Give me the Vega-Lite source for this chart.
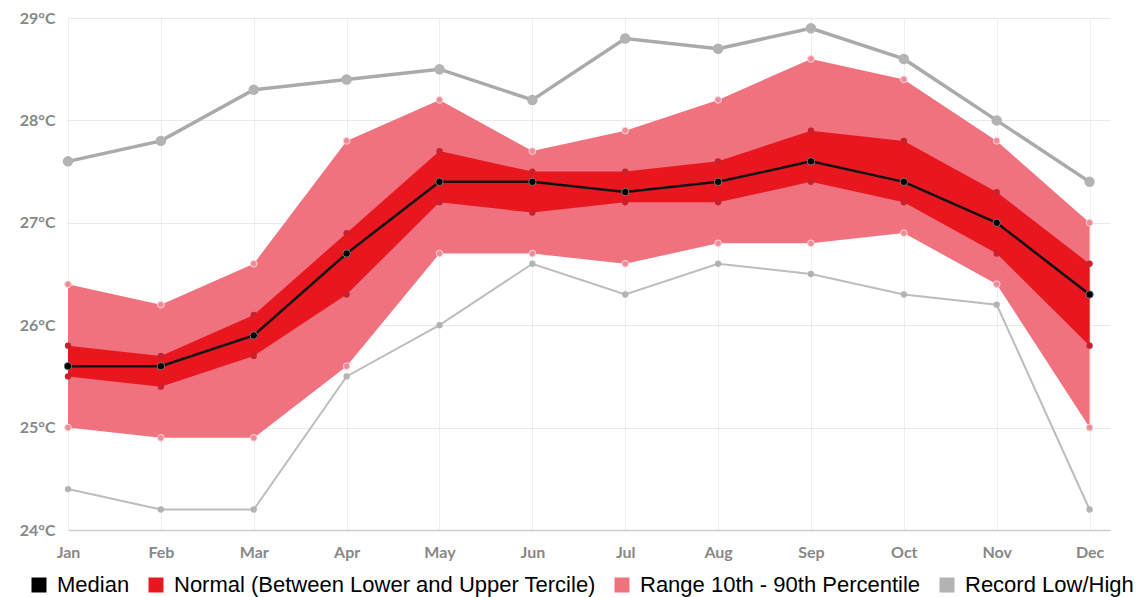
{
  "$schema": "https://vega.github.io/schema/vega-lite/v6.json",
  "width": 1042,
  "height": 512,
  "autosize": "none",
  "padding": {"left": 68, "top": 18, "right": 32, "bottom": 67},
  "background": "white",
  "config": {
    "view": {"stroke": null},
    "axis": {"labelFont": "Lato", "labelFontWeight": "bold", "labelColor": "#888888", "labelFontSize": 16, "ticks": false, "gridColor": "#e9e9e9", "gridWidth": 1, "title": null}
  },
  "data": {
    "values": [
      {"month": "Jan", "m": 1, "rec_lo": 24.4, "p10": 25.0, "lo_t": 25.5, "med": 25.6, "hi_t": 25.8, "p90": 26.4, "rec_hi": 27.6},
      {"month": "Feb", "m": 2, "rec_lo": 24.2, "p10": 24.9, "lo_t": 25.4, "med": 25.6, "hi_t": 25.7, "p90": 26.2, "rec_hi": 27.8},
      {"month": "Mar", "m": 3, "rec_lo": 24.2, "p10": 24.9, "lo_t": 25.7, "med": 25.9, "hi_t": 26.1, "p90": 26.6, "rec_hi": 28.3},
      {"month": "Apr", "m": 4, "rec_lo": 25.5, "p10": 25.6, "lo_t": 26.3, "med": 26.7, "hi_t": 26.9, "p90": 27.8, "rec_hi": 28.4},
      {"month": "May", "m": 5, "rec_lo": 26.0, "p10": 26.7, "lo_t": 27.2, "med": 27.4, "hi_t": 27.7, "p90": 28.2, "rec_hi": 28.5},
      {"month": "Jun", "m": 6, "rec_lo": 26.6, "p10": 26.7, "lo_t": 27.1, "med": 27.4, "hi_t": 27.5, "p90": 27.7, "rec_hi": 28.2},
      {"month": "Jul", "m": 7, "rec_lo": 26.3, "p10": 26.6, "lo_t": 27.2, "med": 27.3, "hi_t": 27.5, "p90": 27.9, "rec_hi": 28.8},
      {"month": "Aug", "m": 8, "rec_lo": 26.6, "p10": 26.8, "lo_t": 27.2, "med": 27.4, "hi_t": 27.6, "p90": 28.2, "rec_hi": 28.7},
      {"month": "Sep", "m": 9, "rec_lo": 26.5, "p10": 26.8, "lo_t": 27.4, "med": 27.6, "hi_t": 27.9, "p90": 28.6, "rec_hi": 28.9},
      {"month": "Oct", "m": 10, "rec_lo": 26.3, "p10": 26.9, "lo_t": 27.2, "med": 27.4, "hi_t": 27.8, "p90": 28.4, "rec_hi": 28.6},
      {"month": "Nov", "m": 11, "rec_lo": 26.2, "p10": 26.4, "lo_t": 26.7, "med": 27.0, "hi_t": 27.3, "p90": 27.8, "rec_hi": 28.0},
      {"month": "Dec", "m": 12, "rec_lo": 24.2, "p10": 25.0, "lo_t": 25.8, "med": 26.3, "hi_t": 26.6, "p90": 27.0, "rec_hi": 27.4}
    ]
  },
  "encoding": {
    "x": {
      "field": "m", "type": "quantitative",
      "scale": {"domain": [1, 12.22], "nice": false, "zero": false},
      "axis": {"values": [1,2,3,4,5,6,7,8,9,10,11,12], "labelExpr": "['Jan','Feb','Mar','Apr','May','Jun','Jul','Aug','Sep','Oct','Nov','Dec'][datum.value - 1]", "domainColor": "#cccccc", "domainWidth": 1.5, "labelPadding": 14, "gridColor": "#eeeeee", "labelFlush": false, "labelOverlap": false}
    }
  },
  "layer": [
    {
      "mark": {"type": "area", "opacity": 1},
      "encoding": {
        "y": {"field": "p10", "type": "quantitative", "scale": {"domain": [24, 29], "nice": false, "zero": false},
          "axis": {"values": [24,25,26,27,28,29], "labelExpr": "datum.value + '°C'", "domain": false, "labelPadding": 13}},
        "y2": {"field": "p90"},
        "color": {"datum": "Range 10th - 90th Percentile", "type": "nominal",
          "scale": {"domain": ["Median", "Normal (Between Lower and Upper Tercile)", "Range 10th - 90th Percentile", "Record Low/High"], "range": ["#000000", "#e8171f", "#f0727f", "#b3b3b3"]},
          "legend": {"orient": "none", "legendX": -40, "legendY": 556, "direction": "horizontal", "title": null, "symbolType": "square", "symbolSize": 225, "symbolStrokeWidth": 0, "symbolOpacity": 1, "labelFont": "Liberation Sans", "labelFontSize": 22, "labelColor": "#000000", "labelOffset": 7, "columnPadding": 15, "padding": 0, "labelLimit": 600}}
      }
    },
    {
      "mark": {"type": "area", "opacity": 1},
      "encoding": {
        "y": {"field": "lo_t", "type": "quantitative"},
        "y2": {"field": "hi_t"},
        "color": {"datum": "Normal (Between Lower and Upper Tercile)", "type": "nominal"}
      }
    },
    {
      "mark": {"type": "line", "color": "#aaaaaa", "strokeWidth": 3.5},
      "encoding": {"y": {"field": "rec_hi", "type": "quantitative"}}
    },
    {
      "mark": {"type": "point", "filled": true, "size": 110, "opacity": 1},
      "encoding": {"y": {"field": "rec_hi", "type": "quantitative"}, "color": {"datum": "Record Low/High", "type": "nominal"}}
    },
    {
      "mark": {"type": "line", "color": "#bdbdbd", "strokeWidth": 2},
      "encoding": {"y": {"field": "rec_lo", "type": "quantitative"}}
    },
    {
      "mark": {"type": "point", "filled": true, "size": 40, "opacity": 1},
      "encoding": {"y": {"field": "rec_lo", "type": "quantitative"}, "color": {"datum": "Record Low/High", "type": "nominal"}}
    },
    {
      "mark": {"type": "point", "filled": true, "size": 45, "opacity": 1, "color": "#f08c98", "stroke": "#fbd6db", "strokeWidth": 1},
      "encoding": {"y": {"field": "p10", "type": "quantitative"}}
    },
    {
      "mark": {"type": "point", "filled": true, "size": 45, "opacity": 1, "color": "#f08c98", "stroke": "#fbd6db", "strokeWidth": 1},
      "encoding": {"y": {"field": "p90", "type": "quantitative"}}
    },
    {
      "mark": {"type": "point", "filled": true, "size": 40, "opacity": 1, "color": "#c9202b"},
      "encoding": {"y": {"field": "lo_t", "type": "quantitative"}}
    },
    {
      "mark": {"type": "point", "filled": true, "size": 40, "opacity": 1, "color": "#c9202b"},
      "encoding": {"y": {"field": "hi_t", "type": "quantitative"}}
    },
    {
      "mark": {"type": "line", "color": "#111111", "strokeWidth": 2.5},
      "encoding": {"y": {"field": "med", "type": "quantitative"}}
    },
    {
      "mark": {"type": "point", "filled": true, "size": 55, "opacity": 1, "stroke": "#777777", "strokeWidth": 1},
      "encoding": {"y": {"field": "med", "type": "quantitative"}, "color": {"datum": "Median", "type": "nominal"}}
    }
  ]
}
